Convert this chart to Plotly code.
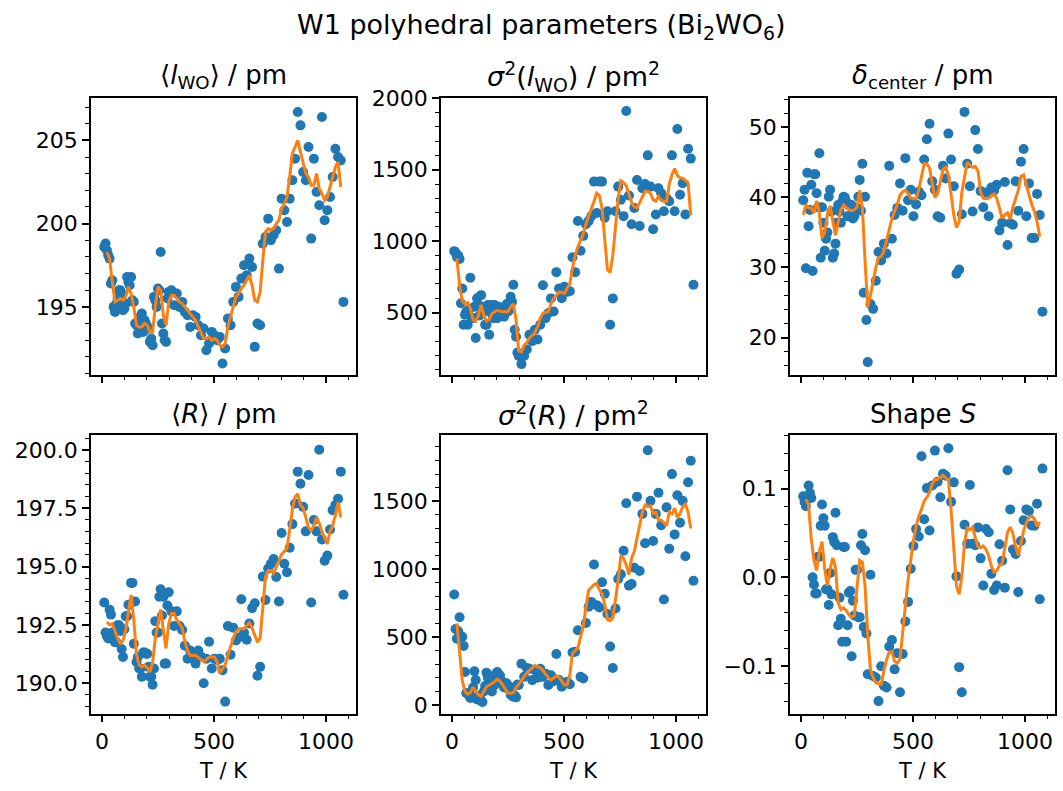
import plotly.graph_objects as go

T_K = [10, 22, 34, 46, 58, 70, 82, 94, 106, 118,
       130, 142, 154, 166, 178, 190, 202, 214, 226, 238,
       250, 262, 274, 286, 298, 310, 322, 334, 346, 358,
       370, 382, 394, 406, 418, 430, 442, 454, 466, 478,
       490, 502, 514, 526, 538, 550, 562, 574, 586, 598,
       610, 622, 634, 646, 658, 670, 682, 694, 706, 718,
       730, 742, 754, 766, 778, 790, 802, 814, 826, 838,
       850, 862, 874, 886, 898, 910, 922, 934, 946, 958,
       970, 982, 994, 1006, 1018, 1030, 1042, 1054, 1066, 1078]
# additional low-temperature measurements (dense region)
T_K_extra = [16, 28, 40, 52, 64, 76, 88, 100, 112, 124, 136, 148,
             160, 172, 184, 196, 208, 220, 232, 244, 256, 268, 280, 292]

lwo_mean = [198.6, 198.4, 197.9, 196.6, 194.7, 195.5, 196.0, 194.8, 195.2, 196.5,
            196.8, 195.3, 193.9, 193.5, 194.6, 194.2, 193.8, 192.9, 192.7, 195.4,
            196.1, 198.3, 193.4, 192.9, 195.9, 196.0, 195.1, 195.8, 195.0, 195.3,
            194.7, 194.5, 193.8, 194.5, 194.4, 193.9, 193.3, 193.7, 192.4, 192.8,
            193.5, 193.3, 193.0, 193.2, 191.6, 192.5, 194.3, 193.9, 195.3, 196.2,
            195.6, 196.7, 197.5, 196.9, 197.9, 197.4, 192.6, 194.0, 193.9, 198.8,
            199.2, 200.3, 199.0, 199.3, 199.6, 197.3, 201.5, 200.8, 200.1, 201.5,
            202.6, 203.9, 206.7, 205.9, 203.1, 202.6, 204.6, 199.1, 203.9, 201.9,
            201.1, 206.4, 200.2, 200.8, 201.6, 202.8, 204.5, 204.0, 203.8, 195.3]
lwo_mean_extra = [198.8, 198.1, 196.4, 195.0, 195.2, 196.0, 195.8, 194.9, 196.8, 196.3, 195.4, 194.0,
                  193.4, 194.4, 193.5, 194.0, 193.7, 193.1, 195.6, 195.0, 196.0, 194.0, 193.0, 195.5]
lwo_mean_smooth = [None, 198.3, 197.9, 196.5, 195.3, 195.4, 195.5, 195.4, 195.6, 196.2,
                   195.8, 195.0, 193.9, 193.8, 193.8, 194.0, 193.9, 193.5, 193.5, 195.0,
                   196.2, 196.0, 194.5, 193.9, 195.3, 195.7, 195.7, 195.5, 195.3, 195.2,
                   195.0, 194.8, 194.6, 194.4, 194.2, 193.8, 193.4, 193.1, 193.1, 193.2,
                   193.0, 193.1, 193.0, 192.7, 192.6, 192.8, 193.8, 194.5, 195.0, 195.6,
                   195.8, 196.1, 196.3, 196.6, 196.9, 196.3, 195.4, 195.3, 195.9, 197.8,
                   199.5, 199.7, 199.6, 199.7, 200.0, 200.2, 200.9, 201.2, 201.6, 202.8,
                   204.2, 204.6, 205.0, 204.3, 203.6, 203.0, 202.8, 202.3, 202.3, 203.0,
                   202.1, 201.8, 201.4, 201.6, 202.2, 202.8, 203.4, 203.7, 202.2, None]

sig_lwo = [930, 890, 875, 668, 484, 415, 744, 461, 322, 553,
           622, 507, 415, 345, 553, 553, 461, 520, 484, 530,
           507, 611, 695, 330, 196, 139, 196, 242, 345, 300,
           380, 311, 415, 691, 461, 495, 599, 507, 783, 668,
           600, 680, 645, 650, 887, 783, 1141, 933, 1037, 1118,
           1140, 1175, 1417, 1198, 1417, 1417, 1164, 1210, 415, 599,
           1210, 1382, 1290, 1175, 1912, 1320, 1118, 1233, 1428, 1106,
           1371, 1400, 1601, 1382, 1083, 1187, 1371, 1336, 1210, 1300,
           1279, 1601, 1210, 1785, 1325, 1405, 1187, 1647, 1578, 695]
sig_lwo_extra = [921, 900, 565, 415, 507, 520, 461, 540, 600, 480, 540, 415,
                 553, 500, 461, 484, 540, 495, 470, 560, 520, 575, 380, 220]
sig_lwo_smooth = [None, 880, 691, 580, 560, 570, 530, 450, 440, 480,
                  553, 480, 440, 450, 490, 505, 515, 510, 505, 507,
                  505, 540, 560, 450, 230, 225, 270, 290, 322, 340,
                  360, 400, 460, 495, 500, 507, 560, 600, 620, 645,
                  640, 634, 670, 700, 810, 900, 960, 1000, 1050, 1120,
                  1170, 1220, 1280, 1336, 1320, 1230, 1000, 800, 780, 900,
                  1100, 1300, 1423, 1410, 1390, 1330, 1270, 1240, 1233, 1270,
                  1305, 1350, 1350, 1336, 1290, 1280, 1313, 1285, 1280, 1279,
                  1400, 1465, 1509, 1460, 1445, 1440, 1425, 1410, 1180, None]

delta_c = [39.6, 29.9, 35.9, 41.8, 43.3, 40.6, 46.3, 38.6, 32.4, 35.0,
           41.1, 31.4, 33.4, 38.9, 36.4, 40.1, 39.4, 37.3, 38.9, 37.3,
           38.5, 42.5, 44.8, 40.1, 16.5, 24.8, 24.1, 28.1, 32.2, 31.0,
           33.4, 32.0, 44.5, 34.1, 37.5, 38.5, 42.0, 38.1, 45.6, 39.6,
           41.1, 37.3, 39.0, 40.8, 40.3, 45.4, 48.3, 50.5, 42.3, 41.1,
           37.3, 37.1, 44.5, 42.7, 49.1, 45.4, 41.6, 29.1, 29.7, 37.6,
           52.2, 44.8, 41.6, 38.0, 49.6, 46.9, 40.9, 38.6, 40.7, 37.3,
           41.4, 41.0, 41.8, 35.3, 36.4, 42.2, 33.2, 36.3, 36.1, 42.3,
           38.1, 45.1, 46.9, 37.3, 42.0, 34.2, 34.2, 40.5, 37.5, 23.7]
delta_c_extra = [41.1, 43.5, 38.2, 29.5, 43.3, 38.6, 31.4, 36.4, 34.1, 40.1, 38.0, 32.0,
                 36.4, 38.0, 39.4, 40.0, 37.3, 38.9, 37.0, 38.2, 40.1, 38.1, 26.4, 22.5]
delta_c_smooth = [37.5, 39.0, 38.5, 38.5, 37.8, 39.5, 37.7, 34.2, 35.0, 37.5,
                  38.8, 36.6, 34.6, 36.5, 38.2, 38.9, 38.5, 38.3, 38.1, 38.2,
                  38.6, 41.0, 38.6, 31.0, 24.3, 26.0, 28.3, 30.0, 31.4, 31.6,
                  32.3, 34.0, 35.5, 37.0, 38.0, 39.0, 40.3, 40.8, 41.0, 40.6,
                  39.9, 39.8, 39.8, 41.1, 43.2, 44.8, 44.8, 44.2, 42.0, 40.0,
                  40.5, 42.3, 44.0, 44.3, 43.2, 40.5, 37.5, 35.7, 36.5, 40.7,
                  42.8, 45.0, 44.6, 44.3, 44.4, 43.8, 40.7, 39.9, 39.8, 39.9,
                  40.2, 40.5, 39.9, 38.5, 37.0, 37.5, 37.8, 36.9, 38.6, 39.8,
                  41.0, 43.0, 43.2, 41.8, 40.3, 39.0, 38.0, 36.5, 34.4, None]

r_mean = [193.46, 192.02, 193.15, 192.17, 191.76, 192.48, 192.24, 191.12, 192.87, 193.36,
          194.30, 191.69, 190.91, 190.63, 190.28, 191.32, 191.26, 190.28, 189.93, 192.66,
          192.17, 194.03, 193.71, 190.84, 193.90, 193.08, 192.45, 193.08, 192.45, 192.28,
          191.61, 191.05, 191.40, 191.05, 190.84, 191.40, 191.14, 190.00, 191.05, 191.78,
          190.63, 191.05, 190.99, 191.05, 190.56, 189.21, 192.45, 191.22, 192.38, 191.83,
          191.96, 193.60, 192.17, 191.86, 192.56, 193.22, 193.43, 190.32, 190.70, 194.57,
          193.57, 194.92, 195.12, 195.32, 194.55, 193.50, 196.44, 195.12, 194.76, 195.81,
          196.82, 197.70, 199.07, 198.55, 197.56, 196.51, 198.93, 193.46, 197.00, 196.51,
          200.01, 196.16, 195.25, 195.47, 196.59, 197.42, 197.64, 197.91, 199.07, 193.79]
r_mean_extra = [192.17, 191.92, 192.94, 191.90, 191.76, 192.48, 191.47, 192.31, 192.87, 193.36, 194.30, 193.50,
                191.12, 190.63, 191.32, 191.26, 190.70, 190.28, 190.63, 192.17, 193.71, 192.90, 190.84, 193.33]
r_mean_smooth = [None, 192.63, 192.50, 192.55, 192.20, 191.93, 191.67, 191.84, 192.28, 193.07,
                 193.78, 192.72, 191.23, 190.79, 190.70, 190.77, 190.66, 190.48, 190.88, 191.93,
                 192.59, 193.16, 192.28, 191.49, 192.55, 192.99, 192.99, 192.72, 192.55, 192.37,
                 191.80, 191.40, 191.19, 191.19, 191.19, 191.10, 191.01, 190.92, 191.01, 191.12,
                 191.12, 191.12, 190.92, 190.44, 190.61, 190.79, 191.19, 191.58, 191.93, 192.20,
                 192.33, 192.33, 192.33, 192.46, 192.59, 192.37, 192.02, 191.76, 191.93, 193.34,
                 194.57, 194.83, 194.83, 194.70, 195.00, 195.27, 195.53, 195.66, 195.79, 196.59,
                 197.46, 197.99, 198.12, 197.64, 197.51, 197.11, 196.67, 196.54, 196.76, 197.11,
                 196.86, 196.50, 196.23, 195.97, 196.50, 196.76, 197.20, 197.77, 197.11, None]

sig_r = [814, 488, 646, 502, 243, 87, 51, 128, 183, 51,
         32, 99, 238, 183, 100, 147, 243, 219, 170, 147,
         120, 75, 60, 56, 147, 303, 207, 272, 267, 183,
         255, 200, 267, 207, 230, 147, 219, 175, 375, 183,
         135, 160, 170, 152, 387, 392, 550, 207, 195, 603,
         723, 759, 1035, 735, 718, 903, 819, 670, 430, 272,
         711, 927, 963, 1136, 1486, 879, 891, 1011, 1534, 987,
         1407, 1191, 1875, 1503, 1208, 1407, 1563, 1323, 776, 1455,
         1150, 1700, 1256, 1544, 1342, 1503, 1095, 1640, 1798, 915]
sig_r_extra = [560, 543, 502, 435, 87, 75, 60, 248, 40, 70, 22, 140,
               200, 130, 160, 230, 200, 180, 130, 160, 135, 90, 70, 150]
sig_r_smooth = [None, 600, 380, 180, 100, 80, 90, 130, 100, 75,
                63, 100, 135, 145, 155, 170, 190, 175, 150, 120,
                87, 87, 90, 125, 155, 180, 205, 235, 255, 275,
                290, 282, 272, 255, 225, 200, 183, 200, 215, 205,
                175, 147, 147, 220, 380, 400, 420, 500, 580, 720,
                845, 865, 885, 895, 850, 820, 740, 630, 620, 640,
                780, 920, 1100, 1080, 1030, 960, 1083, 1130, 1230, 1330,
                1420, 1472, 1462, 1467, 1410, 1419, 1360, 1360, 1340, 1320,
                1419, 1407, 1450, 1380, 1410, 1460, 1479, 1420, 1300, None]

shape_s = [0.0913, 0.0803, 0.1035, 0.0895, -0.0081, -0.0182, 0.0232, 0.0821, 0.0582, -0.0136,
           0.0048, 0.0453, 0.0728, -0.0541, -0.0468, 0.0342, -0.0726, -0.0173, -0.0891, -0.0431,
           0.0084, -0.0449, 0.0489, 0.0306, -0.1094, 0.0029, -0.1112, -0.1130, -0.1396, -0.1002,
           -0.1223, -0.1242, -0.0781, -0.0707, -0.1038, -0.0855, -0.1297, -0.0865, -0.0497, -0.0277,
           0.0096, 0.0354, 0.0545, 0.0460, 0.1366, 0.0655, 0.1006, 0.0527, 0.1035, 0.1429,
           0.1079, 0.0902, 0.1169, 0.1145, 0.1456, 0.0851, 0.1071, 0.0011, -0.1013, -0.1297,
           0.0593, 0.0379, 0.1042, 0.0379, 0.0361, 0.0563, 0.0214, -0.0092, 0.0545, 0.0508,
           0.0040, -0.0144, -0.0092, 0.0372, 0.0188, -0.0118, 0.1208, 0.0766, 0.0313, 0.0262,
           -0.0166, 0.0409, 0.0644, 0.0766, 0.0747, 0.0584, 0.0582, 0.0829, -0.0247, 0.1226]
shape_s_extra = [0.0850, 0.0885, 0.0950, 0.0000, -0.0182, 0.0232, 0.0582, 0.0667, -0.0136, -0.0313, -0.0192, 0.0400,
                 0.0361, -0.0229, -0.0726, 0.0342, -0.0541, -0.0155, -0.0265, 0.0084, -0.0449, 0.0361, -0.0560, -0.0633]
shape_s_smooth = [None, 0.0881, 0.0814, 0.0431, 0.0192, 0.0077, 0.0287, 0.0402, 0.0096, -0.0096,
                  0.0096, 0.0220, 0.0115, -0.0287, -0.0364, -0.0345, -0.0374, -0.0422, -0.0450, -0.0431,
                  -0.0096, 0.0192, 0.0172, -0.0096, -0.0651, -0.1035, -0.1130, -0.1188, -0.1198, -0.1207,
                  -0.1054, -0.0929, -0.0843, -0.0843, -0.0948, -0.0968, -0.0920, -0.0651, -0.0326, -0.0029,
                  0.0211, 0.0412, 0.0575, 0.0690, 0.0766, 0.0862, 0.0901, 0.0958, 0.1054, 0.1102,
                  0.1102, 0.1130, 0.1150, 0.1121, 0.1102, 0.0766, 0.0287, -0.0096, -0.0192, 0.0,
                  0.0383, 0.0556, 0.0536, 0.0565, 0.0450, 0.0345, 0.0335, 0.0354, 0.0316, 0.0240,
                  0.0125, 0.0057, 0.0077, 0.0134, 0.0153, 0.0354, 0.0508, 0.0565, 0.0498, 0.0345,
                  0.0249, 0.0383, 0.0527, 0.0613, 0.0680, 0.0690, 0.0661, 0.0575, 0.0623, None]

titles = ["⟨<i>l</i><sub>WO</sub>⟩ / pm",
          "<i>σ</i><sup>2</sup>(<i>l</i><sub>WO</sub>) / pm<sup>2</sup>",
          "<i>δ</i><sub>center</sub> / pm",
          "⟨<i>R</i>⟩ / pm",
          "<i>σ</i><sup>2</sup>(<i>R</i>) / pm<sup>2</sup>",
          "Shape <i>S</i>"]
suptitle = "W1 polyhedral parameters (Bi<sub>2</sub>WO<sub>6</sub>)"
x_label = "T / K"

series = [(lwo_mean, lwo_mean_extra, lwo_mean_smooth),
          (sig_lwo, sig_lwo_extra, sig_lwo_smooth),
          (delta_c, delta_c_extra, delta_c_smooth),
          (r_mean, r_mean_extra, r_mean_smooth),
          (sig_r, sig_r_extra, sig_r_smooth),
          (shape_s, shape_s_extra, shape_s_smooth)]

W, H = 1063, 791
FONT = "DejaVu Sans"
cols = [(91, 356), (441, 706), (790, 1055)]
rows = [(88, 370), (432, 716)]
yranges = [[190.94, 207.53], [66, 2001], [14.73, 54.15],
           [188.70, 200.63], [-63, 1986], [-0.1536, 0.1602]]
ydticks = [5, 500, 10, 2.5, 500, 0.1]
yminor = [1, 100, 2, 0.5, 100, 0.02]
yformats = ["d", "d", "d", ".1f", "d", ".1f"]

fig = go.Figure()
annotations = []
layout = {}
for k in range(6):
    r, c = divmod(k, 3)
    sfx = "" if k == 0 else str(k + 1)
    vals, extra, smooth = series[k]
    fig.add_trace(go.Scatter(x=T_K + T_K_extra, y=vals + extra, mode="markers",
                             marker=dict(color="#1f77b4", size=10, line=dict(width=0)),
                             xaxis="x" + sfx, yaxis="y" + sfx, showlegend=False))
    fig.add_trace(go.Scatter(x=T_K, y=smooth, mode="lines",
                             line=dict(color="#ff7f0e", width=3),
                             xaxis="x" + sfx, yaxis="y" + sfx, showlegend=False))
    x0, x1 = cols[c]
    y0, y1 = rows[r]
    common = dict(showline=True, linecolor="black", linewidth=1.5, mirror=True,
                  ticks="outside", ticklen=7, tickwidth=1.5, tickcolor="black",
                  showgrid=False, zeroline=False,
                  tickfont=dict(family=FONT, size=22, color="black"))
    layout["xaxis" + sfx] = dict(common, domain=[x0 / W, x1 / W], anchor="y" + sfx,
                                 range=[-49, 1134], tickmode="linear", tick0=0, dtick=500,
                                 showticklabels=(r == 1),
                                 minor=dict(ticks="outside", ticklen=4, tickwidth=1.1,
                                            tickcolor="black", dtick=100, tick0=0, showgrid=False))
    layout["yaxis" + sfx] = dict(common, domain=[1 - y1 / H, 1 - y0 / H], anchor="x" + sfx,
                                 range=yranges[k], tickmode="linear", tick0=0,
                                 dtick=ydticks[k], tickformat=yformats[k],
                                 minor=dict(ticks="outside", ticklen=4, tickwidth=1.1,
                                            tickcolor="black", dtick=yminor[k], tick0=0,
                                            showgrid=False))
    tsize = 27 if k in (1, 4) else 26
    annotations.append(dict(text=titles[k], x=(x0 + x1) / 2 / W, y=1 - (y0 - 22) / H,
                            xref="paper", yref="paper", xanchor="center", yanchor="middle",
                            showarrow=False, font=dict(family=FONT, size=tsize, color="black")))
    if r == 1:
        annotations.append(dict(text=x_label, x=(x0 + x1) / 2 / W, y=1 - 775 / H,
                                xref="paper", yref="paper", xanchor="center", yanchor="middle",
                                showarrow=False, font=dict(family=FONT, size=21, color="black")))

annotations.append(dict(text=suptitle, x=541 / W, y=1 - 15 / H, xref="paper", yref="paper",
                        xanchor="center", yanchor="middle", showarrow=False,
                        font=dict(family=FONT, size=27, color="black")))

fig.update_layout(width=W, height=H, margin=dict(l=0, r=0, t=0, b=0),
                  paper_bgcolor="white", plot_bgcolor="white",
                  font=dict(family=FONT, color="black"),
                  annotations=annotations, **layout)
fig.write_html("out.html")
